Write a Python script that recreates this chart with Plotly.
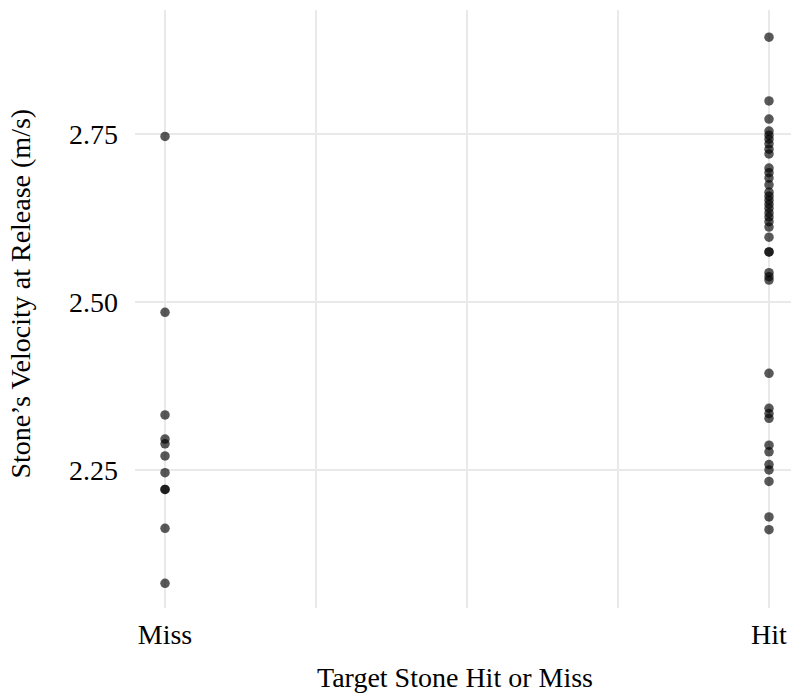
import plotly.graph_objects as go

# Release velocity (m/s) for each delivery, grouped by outcome
categories = ["Miss", "Hit"]

miss_velocity = [2.747, 2.485, 2.332, 2.296, 2.289, 2.271, 2.246, 2.221, 2.221,
                 2.163, 2.081]

hit_velocity = [2.895, 2.800, 2.773, 2.755, 2.749, 2.743, 2.736, 2.728, 2.721,
                2.700, 2.693, 2.685, 2.675, 2.664, 2.658, 2.652, 2.646, 2.640,
                2.633, 2.627, 2.620, 2.612, 2.597, 2.575, 2.575, 2.544, 2.538,
                2.533, 2.394, 2.342, 2.334, 2.327, 2.287, 2.277, 2.258, 2.250,
                2.233, 2.180, 2.161]

y_ticks = [2.25, 2.50, 2.75]
y_tick_labels = ["2.25", "2.50", "2.75"]

x_grid = [0, 0.25, 0.5, 0.75, 1]

# position of each outcome on the horizontal axis
pos = {c: i for i, c in enumerate(categories)}
xs = [pos["Miss"]] * len(miss_velocity) + [pos["Hit"]] * len(hit_velocity)
ys = miss_velocity + hit_velocity

font_family = "Liberation Serif, Times New Roman, serif"
font_size = 28
grid_col = "#e9e9e9"

fig = go.Figure(
    go.Scatter(
        x=xs, y=ys, mode="markers",
        marker=dict(size=9.5, color="rgba(0,0,0,0.65)", line=dict(width=0)),
        hoverinfo="y",
    )
)

fig.update_layout(
    width=791, height=698,
    margin=dict(l=135, r=0, t=10, b=90),
    paper_bgcolor="white", plot_bgcolor="white",
    showlegend=False,
    font=dict(family=font_family, size=font_size, color="black"),
)

fig.update_xaxes(
    range=[-0.0497, 1.0364],
    tickvals=x_grid,
    ticktext=[categories[0], "", "", "", categories[1]],
    showgrid=True, gridcolor=grid_col, gridwidth=1.5,
    zeroline=False, showline=False, ticks="",
    ticklabelstandoff=7,
    tickfont=dict(size=font_size, family=font_family, color="black"),
)

fig.update_yaxes(
    range=[2.0443, 2.9355],
    tickvals=y_ticks, ticktext=y_tick_labels,
    showgrid=True, gridcolor=grid_col, gridwidth=1.5,
    zeroline=False, showline=False, ticks="",
    ticklabelstandoff=16,
    tickfont=dict(size=font_size, family=font_family, color="black"),
)

axis_title_font = dict(size=font_size, family=font_family, color="black")

# horizontal axis title
fig.add_annotation(
    text="Target Stone Hit or Miss",
    xref="paper", yref="paper",
    x=(455 - 135) / 656, y=-(677 - 608) / 598,
    xanchor="center", yanchor="middle",
    showarrow=False, font=axis_title_font,
)

# vertical axis title
fig.add_annotation(
    text="Stone’s Velocity at Release (m/s)",
    textangle=-90,
    xref="paper", yref="paper",
    x=-(135 - 20) / 656, y=(608 - 293.5) / 598,
    xanchor="center", yanchor="middle",
    showarrow=False, font=axis_title_font,
)

fig.write_html("out.html")
